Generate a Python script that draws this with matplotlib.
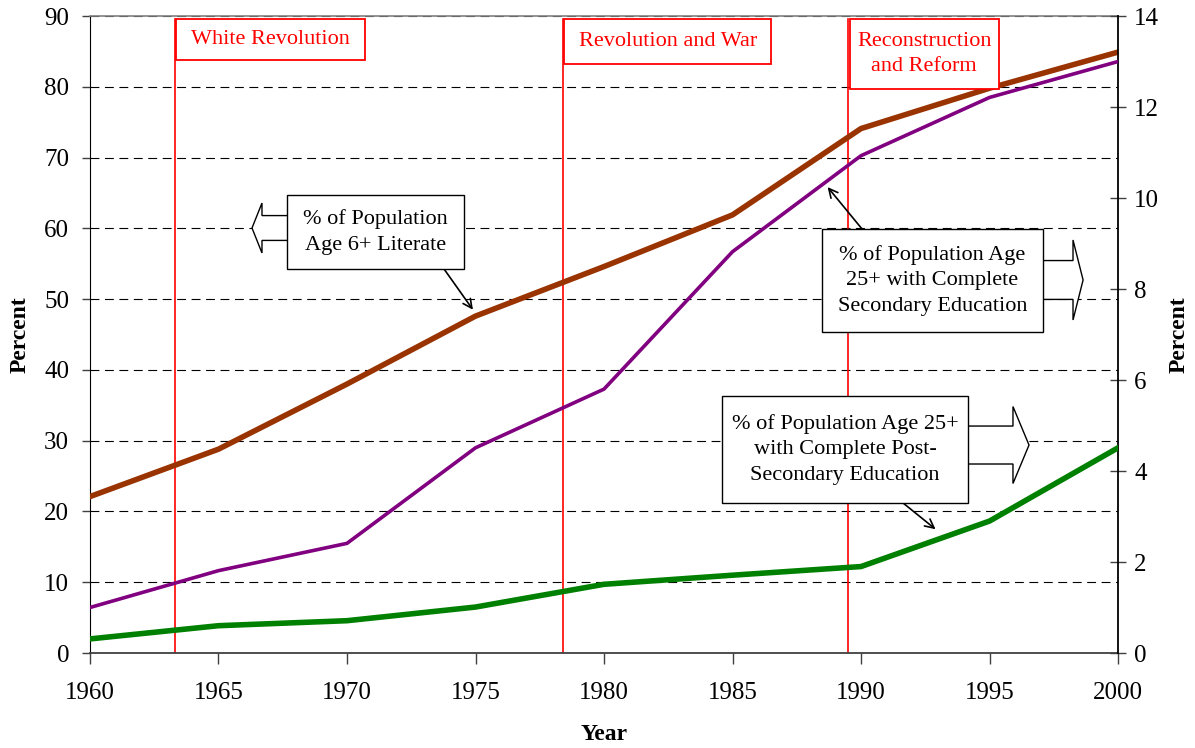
import matplotlib

matplotlib.use("Agg")
import matplotlib.pyplot as plt
from matplotlib.patches import FancyArrow, Rectangle
from matplotlib.transforms import blended_transform_factory

plt.rcParams["font.family"] = ["Liberation Serif", "DejaVu Serif"]

# data
years = [1960, 1965, 1970, 1975, 1980, 1985, 1990, 1995, 2000]
literate_6plus = [22.1, 28.8, 38.0, 47.6, 54.6, 61.9, 74.1, 79.8, 84.9]          # left axis
secondary_25plus = [1.00, 1.81, 2.41, 4.51, 5.80, 8.82, 10.93, 12.21, 13.0]      # right axis
post_secondary_25plus = [0.31, 0.60, 0.71, 1.01, 1.51, 1.71, 1.90, 2.90, 4.51]  # right axis

events = ["White Revolution", "Revolution and War", "Reconstruction\nand Reform"]
event_years = [1963.3, 1978.4, 1989.5]

left_ticks = list(range(0, 91, 10))
right_ticks = list(range(0, 15, 2))
x_ticks = list(range(1960, 2001, 5))

BROWN = "#993300"
PURPLE = "#800080"
GREEN = "#008000"
RED = "#ff0000"

fig = plt.figure(figsize=(11.95, 7.48), dpi=100)
ax = fig.add_axes([0.0753, 0.127, 0.8603, 0.8516])
ax2 = ax.twinx()

ax.set_xlim(1960, 2000)
ax.set_ylim(0, 90)
ax2.set_ylim(0, 14)
ax.set_xticks(x_ticks)
ax.set_yticks(left_ticks)
ax2.set_yticks(right_ticks)

ax.yaxis.grid(True, linestyle=(0, (8, 5)), color="black", linewidth=0.8)
ax.set_axisbelow(True)

# period markers
for yr in event_years:
    ax.axvline(yr, ymin=0, ymax=0.995, color=RED, linewidth=1.2, zorder=1.8)

ax.plot(years, literate_6plus, color=BROWN, linewidth=4.0, zorder=3)
ax2.plot(years, secondary_25plus, color=PURPLE, linewidth=2.6, zorder=3)
ax2.plot(years, post_secondary_25plus, color=GREEN, linewidth=4.0, zorder=3)

# spines / ticks
for side in ("top", "left", "bottom"):
    ax2.spines[side].set_visible(False)
ax.spines["right"].set_visible(False)
ax.spines["top"].set_color("#808080")
ax.spines["top"].set_linewidth(1.2)
ax.spines["left"].set_color("black")
ax.spines["bottom"].set_color("#404040")
ax.spines["bottom"].set_linewidth(1.3)
ax2.spines["right"].set_color("black")
ax2.spines["right"].set_linewidth(1.3)

ax.tick_params(axis="y", direction="out", length=6, width=1, color="#404040", pad=9, labelsize=18)
ax.tick_params(axis="x", direction="out", length=8, width=1, color="#404040", pad=13, labelsize=18)
ax2.tick_params(axis="y", direction="inout", length=11, width=1, color="#404040", pad=6, labelsize=18)

ax.set_xlabel("Year", fontsize=17, fontweight="bold", labelpad=14)
ax.set_ylabel("Percent", fontsize=17, fontweight="bold", labelpad=10)
ax2.set_ylabel("Percent", fontsize=17, fontweight="bold", labelpad=7)

# red period boxes (x in years, y in axes fraction)
btr = blended_transform_factory(ax2.transData, ax2.transAxes)
event_box_w = [7.35, 8.05, 5.8]
event_box_h = [0.0644, 0.0707, 0.110]
for name, yr, w, h in zip(events, event_years, event_box_w, event_box_h):
    x0 = yr + 0.06
    ax2.add_patch(Rectangle((x0, 0.9953 - h), w, h, transform=btr, facecolor="white",
                            edgecolor=RED, linewidth=1.3, zorder=6))
    ax2.text(x0 + w / 2, 0.9953 - h / 2, name, transform=btr, ha="center", va="center",
             color=RED, fontsize=16, linespacing=1.45, zorder=7)


def label_box(x0, y0, x1, y1, text):
    ax2.add_patch(Rectangle((x0, y0), x1 - x0, y1 - y0, transform=ax2.transAxes,
                            facecolor="white", edgecolor="black", linewidth=1.0, zorder=9))
    ax2.text((x0 + x1) / 2, (y0 + y1) / 2, text, transform=ax2.transAxes, ha="center",
             va="center", fontsize=16, linespacing=1.45, zorder=10)


def block_arrow(x_tail, x_tip, y, shaft, head, head_len):
    ax2.add_patch(FancyArrow(x_tail, y, x_tip - x_tail, 0, width=shaft, head_width=head,
                             head_length=head_len, length_includes_head=True,
                             transform=ax2.transAxes, facecolor="white", edgecolor="black",
                             linewidth=1.0, zorder=8))


def pointer(target, x_from, y_from):
    ax2.annotate("", xy=target, xycoords="data", xytext=(x_from, y_from),
                 textcoords="axes fraction",
                 arrowprops=dict(arrowstyle="->", color="black", lw=1.2, shrinkA=0, shrinkB=0,
                                 mutation_scale=16),
                 zorder=8)


# literacy label (left axis; pointer target converted to right-axis units)
block_arrow(0.25, 0.1576, 0.6672, 0.039, 0.0784, 0.0097)
label_box(0.1916, 0.6028, 0.3638, 0.719, "% of Population\nAge 6+ Literate")
pointer((1974.9, 48.5 * 14 / 90), 0.3444, 0.6028)

# secondary education label (right axis)
block_arrow(0.85, 0.9660, 0.5856, 0.061, 0.1256, 0.0098)
label_box(0.7121, 0.5039, 0.9270, 0.6656,
          "% of Population Age\n25+ with Complete\nSecondary Education")
pointer((1988.7, 10.24), 0.751, 0.6656)

# post-secondary label (right axis)
block_arrow(0.80, 0.9134, 0.3265, 0.0596, 0.1208, 0.0156)
label_box(0.6148, 0.2355, 0.8541, 0.4035,
          "% of Population Age 25+\nwith Complete Post-\nSecondary Education")
pointer((1992.9, 2.72), 0.7909, 0.2355)

fig.savefig("out.png", dpi=100)
